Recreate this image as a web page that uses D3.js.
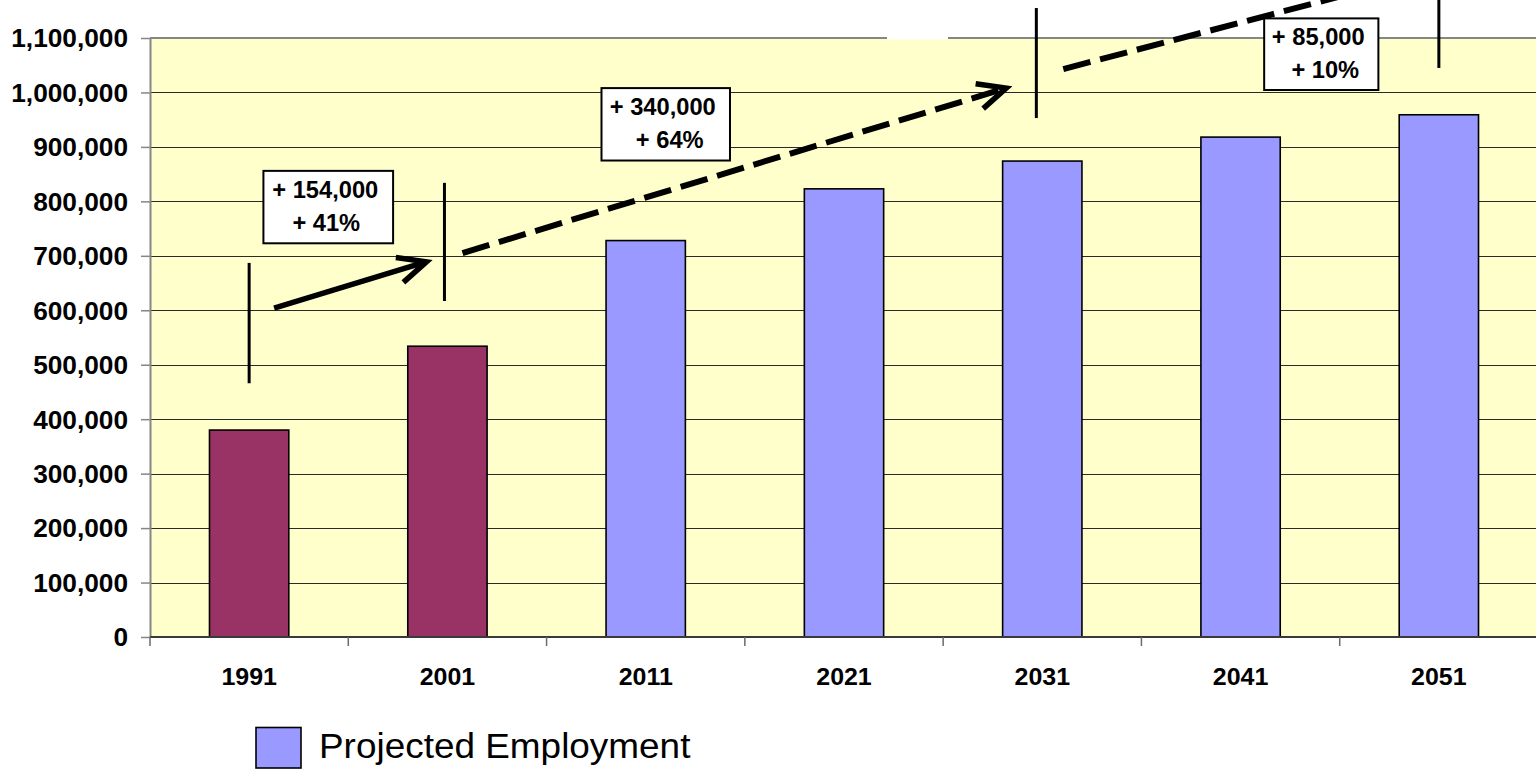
<!DOCTYPE html>
<html><head><meta charset="utf-8">
<script src="https://cdn.jsdelivr.net/npm/d3@7"></script>
<style>
html,body{margin:0;padding:0;background:#fff;overflow:hidden}
svg{display:block}
text{font-family:"Liberation Sans",Arial,Helvetica,sans-serif}
</style></head><body>
<svg id="chart" width="1536" height="769"></svg>
<script>
// ---------------- data ----------------
const categories = ["1991","2001","2011","2021","2031","2041","2051"];
const actualEmployment    = [380000, 534000, null, null, null, null, null];
const projectedEmployment = [null, null, 728000, 823000, 874000, 918000, 959000];
const yTickValues = [0,100000,200000,300000,400000,500000,600000,700000,800000,900000,1000000,1100000];
const legendLabels = ["Projected Employment"];

// annotations, positioned in data space (category index, employment value)
const markerPos   = [0, 0.985, 3.97, 6.0];
const markerFrom  = [466000, 617000, 953000, 1045000];
const markerTo    = [687000, 834000, 1155000, 1175000];

const arrowStartPos = [0.126, 1.076, 4.106];
const arrowStartVal = [604000, 705000, 1043000];
const arrowEndPos   = [0.894, 3.818, 6.2];
const arrowEndVal   = [689000, 1008000, 1243000];
const arrowDashed   = [false, true, true];

const boxPos    = [0.399, 2.101, 5.407];
const boxWidth  = [0.654, 0.648, 0.576];   // in category steps
const boxTop    = [856000, 1008000, 1136000];
const boxBottom = [723000, 875000, 1004500];
const boxLine1  = ["+ 154,000", "+ 340,000", "+ 85,000"];
const boxLine2  = ["+ 41%", "+ 64%", "+ 10%"];

// ---------------- layout ----------------
const svg = d3.select("#chart");
const plot = {left:150, right:1538, top:38, bottom:637};

const x = d3.scaleBand().domain(categories).range([plot.left, plot.right])
  .paddingInner(0.6).paddingOuter(0.3);
const y = d3.scaleLinear().domain([0, 1100000]).range([plot.bottom, plot.top]);
const step = x.step();
const idx = d3.scaleLinear().domain([0, categories.length-1])
  .range([x(categories[0]) + x.bandwidth()/2, x(categories[categories.length-1]) + x.bandwidth()/2]);

// plot background
svg.append("rect").attr("x", plot.left).attr("y", plot.top)
  .attr("width", plot.right-plot.left).attr("height", plot.bottom-plot.top)
  .attr("fill", "#FFFFCC");

// gridlines
svg.append("g").selectAll("line")
  .data(yTickValues.filter(v => v > 0 && v < 1100000))
  .join("line")
  .attr("x1", plot.left).attr("x2", plot.right)
  .attr("y1", d => Math.round(y(d)) + 0.5).attr("y2", d => Math.round(y(d)) + 0.5)
  .attr("stroke", "#2a2a2a").attr("stroke-width", 1);

// top border
svg.append("line").attr("x1", plot.left).attr("x2", plot.right)
  .attr("y1", y(1100000)).attr("y2", y(1100000))
  .attr("stroke", "#868686").attr("stroke-width", 2);
// small white gap in the top border as in original
svg.append("rect").attr("x", 887).attr("y", 36.5).attr("width", 61).attr("height", 3).attr("fill", "#fff");

// y axis
const yAxis = d3.axisLeft(y).tickValues(yTickValues).tickFormat(d3.format(",")).tickSize(9).tickSizeOuter(0);
const gy = svg.append("g").attr("transform", `translate(${plot.left},0)`).call(yAxis);
gy.select(".domain").attr("stroke", "#868686").attr("stroke-width", 2);
gy.selectAll(".tick line").attr("stroke", "#868686").attr("stroke-width", 1.5);
gy.selectAll(".tick text")
  .attr("x", 0).attr("dy", null)
  .attr("transform", `translate(-22,8.9) scale(1.05,1)`)
  .attr("text-anchor", "end")
  .attr("font-family", '"Liberation Sans",Arial,sans-serif')
  .attr("font-size", 25).attr("font-weight", "bold").attr("fill", "#000");

// bars
const bars = svg.append("g");
function drawSeries(values, color) {
  const data = categories.map((c,i) => ({c, v: values[i]})).filter(d => d.v != null);
  bars.selectAll(null).data(data).join("rect")
    .attr("x", d => x(d.c)).attr("width", x.bandwidth())
    .attr("y", d => y(d.v)).attr("height", d => y(0) - y(d.v))
    .attr("fill", color).attr("stroke", "#000").attr("stroke-width", 1.6);
}
drawSeries(actualEmployment, "#993366");
drawSeries(projectedEmployment, "#9999FF");

// x axis
svg.append("line").attr("x1", plot.left).attr("x2", plot.right)
  .attr("y1", y(0)).attr("y2", y(0)).attr("stroke", "#3a3a3a").attr("stroke-width", 2);
const boundaries = d3.range(categories.length + 1).map(i => plot.left + i*step);
svg.append("g").selectAll("line").data(boundaries).join("line")
  .attr("x1", d => d).attr("x2", d => d)
  .attr("y1", y(0)).attr("y2", y(0) + 9)
  .attr("stroke", "#6a6a6a").attr("stroke-width", 1.5);
svg.append("g").selectAll("text").data(categories).join("text")
  .attr("transform", d => `translate(${x(d) + x.bandwidth()/2},684.5) scale(1.04,1)`)
  .attr("text-anchor", "middle").attr("font-size", 24).attr("font-weight", "bold")
  .text(d => d);

// annotations: vertical markers
const ann = svg.append("g");
ann.selectAll(".marker").data(markerPos).join("line").attr("class", "marker")
  .attr("x1", d => idx(d)).attr("x2", d => idx(d))
  .attr("y1", (d,i) => y(markerFrom[i])).attr("y2", (d,i) => y(markerTo[i]))
  .attr("stroke", "#000").attr("stroke-width", 3);

// arrows
arrowStartPos.forEach((p, i) => {
  const x1 = idx(p), y1 = y(arrowStartVal[i]);
  const x2 = idx(arrowEndPos[i]), y2 = y(arrowEndVal[i]);
  const len = Math.hypot(x2-x1, y2-y1);
  const ux = (x2-x1)/len, uy = (y2-y1)/len;
  const nx = -uy, ny = ux;
  const back = 28, half = 13;
  ann.append("line").attr("x1", x1).attr("y1", y1)
    .attr("x2", x2 - ux*4).attr("y2", y2 - uy*4)
    .attr("stroke", "#000").attr("stroke-width", arrowDashed[i] ? 6 : 5.5)
    .attr("stroke-dasharray", arrowDashed[i] ? "28,10" : null);
  ann.append("polyline")
    .attr("points", [
      [x2 - ux*back + nx*half, y2 - uy*back + ny*half],
      [x2, y2],
      [x2 - ux*back - nx*half, y2 - uy*back - ny*half]].map(p => p.join(",")).join(" "))
    .attr("fill", "none").attr("stroke", "#000")
    .attr("stroke-width", 5.5).attr("stroke-linejoin", "miter");
});

// change boxes
boxPos.forEach((p, i) => {
  const cx = idx(p), w = boxWidth[i]*step;
  const top = y(boxTop[i]), bot = y(boxBottom[i]);
  const g = ann.append("g");
  g.append("rect").attr("x", cx - w/2).attr("y", top).attr("width", w).attr("height", bot - top)
    .attr("fill", "#fff").attr("stroke", "#000").attr("stroke-width", 2);
  g.append("text").attr("transform", `translate(${cx - 3},${top + 27}) scale(1.03,1)`)
    .attr("text-anchor", "middle").attr("font-size", 23).attr("font-weight", "bold").text(boxLine1[i]);
  g.append("text").attr("transform", `translate(${cx + (i === 0 ? -2 : 4)},${top + 60}) scale(1.03,1)`)
    .attr("text-anchor", "middle").attr("font-size", 23).attr("font-weight", "bold").text(boxLine2[i]);
});

// legend
const lg = svg.append("g");
lg.append("rect").attr("x", 256).attr("y", 727.5).attr("width", 45).attr("height", 40.5)
  .attr("fill", "#9999FF").attr("stroke", "#000").attr("stroke-width", 1.6);
lg.append("text").attr("transform", `translate(319,758) scale(1.055,1)`)
  .attr("font-size", 35).attr("fill", "#000").text(legendLabels[0]);
</script>
</body></html>
